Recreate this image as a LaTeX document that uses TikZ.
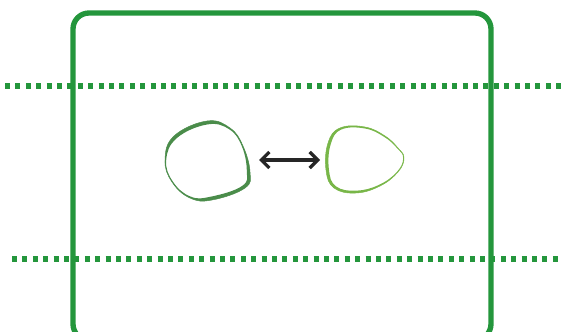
\documentclass[tikz,border=0pt]{standalone}
\usetikzlibrary{arrows.meta}
\definecolor{frame}{HTML}{24963C}
\definecolor{darkblob}{HTML}{4A8C4A}
\definecolor{lightblob}{HTML}{78B648}
\begin{document}
\begin{tikzpicture}[x=0.75pt,y=-0.75pt,
  frameline/.style={draw=frame,line width=4pt,rounded corners=12pt},
  dotline/.style={draw=frame,line width=3.8pt,dash pattern=on 3.8pt off 4pt},
  link/.style={draw=black!85,line width=2.5pt,{Straight Barb[length=6pt,width=12pt]}-{Straight Barb[length=6pt,width=12pt]}}]
\useasboundingbox (0,0) rectangle (561,332);
% frame
\draw[frameline] (73,13) rectangle (491,340);
% dotted lines
\coordinate (d1a) at (5,86); \coordinate (d1b) at (561,86);
\coordinate (d2a) at (12,259); \coordinate (d2b) at (561,259);
\draw[dotline] (d1a) -- (d1b);
\draw[dotline] (d2a) -- (d2b);
% left blob (variable width stroke)
\fill[darkblob,even odd rule]
  plot[smooth cycle,tension=0.7] coordinates {(207,121) (230,128) (243,146) (250,172) (245,188) (212,200) (190,198) (172,182) (165,160) (174,136)}
  plot[smooth cycle,tension=0.7] coordinates {(207,124.5) (229.1,129.2) (241.9,146.4) (246.8,171.1) (242.2,185.9) (211.6,196.5) (190.6,196.6) (172.8,181.5) (166.2,160) (176.8,138.1)};
\draw[darkblob,line width=0.35pt] plot[smooth cycle,tension=0.7] coordinates {(207,121) (230,128) (243,146) (250,172) (245,188) (212,200) (190,198) (172,182) (165,160) (174,136)};
% right blob (variable width stroke)
\fill[lightblob,even odd rule]
  plot[smooth cycle,tension=0.7] coordinates {(340,128) (365,127) (385,136) (398,148) (404,158) (398,172) (380,186) (356,193) (334,188) (326,170) (328,143)}
  plot[smooth cycle,tension=0.7] coordinates {(341.2,129.6) (365,128.5) (384.2,136.9) (397.2,148.3) (403.2,158) (397.1,171.7) (379.3,184.7) (356.7,190.6) (335.9,186.3) (328.9,169.3) (330.7,144.3)};
\draw[lightblob,line width=0.35pt] plot[smooth cycle,tension=0.7] coordinates {(340,128) (365,127) (385,136) (398,148) (404,158) (398,172) (380,186) (356,193) (334,188) (326,170) (328,143)};
% arrow
\coordinate (a1) at (259,160); \coordinate (a2) at (320,160);
\draw[link] (a1) -- (a2);
\end{tikzpicture}
\end{document}
